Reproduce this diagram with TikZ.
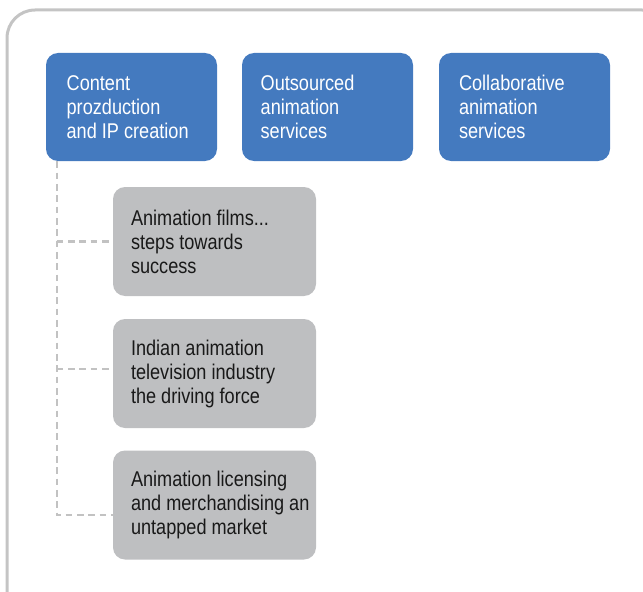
\documentclass[tikz,border=0pt]{standalone}
\usepackage{fontspec}
\setmainfont{Liberation Sans}[FakeStretch=0.85]
\definecolor{box blue}{HTML}{447ABF}
\definecolor{box gray}{HTML}{BEBFC1}
\definecolor{frame gray}{HTML}{C4C4C4}
\definecolor{dash gray}{HTML}{C2C2C2}
\tikzset{
  bluebox/.style={fill=box blue, rounded corners=9pt, minimum width=128.25pt, minimum height=81pt, inner sep=0pt},
  graybox/.style={fill=box gray, rounded corners=9pt, minimum width=152.25pt, minimum height=81.75pt, inner sep=0pt},
  boxtext/.style={anchor=west, align=left, inner sep=0pt, font=\fontsize{16pt}{18pt}\selectfont},
  trunk/.style={draw=dash gray, line width=1.6pt, dash pattern=on 5pt off 3.5pt}
}
\begin{document}
\begin{tikzpicture}[x=0.75pt, y=-0.75pt]
			\useasboundingbox (0,0) rectangle (643,592);
			% outer frame
			\draw[frame gray, line width=2.25pt, rounded corners=21pt] (7,10) rectangle (670,620);
			% top row
			\node[bluebox] (b1) at (131.5,107) {};
			\node[bluebox] (b2) at (327.5,107) {};
			\node[bluebox] (b3) at (524.5,107) {};
			\node[boxtext, text=white] (t1) at ([xshift=15.5pt]b1.west) {Content\\prozduction\\and IP creation};
			\node[boxtext, text=white] (t2) at ([xshift=14pt]b2.west) {Outsourced\\animation\\services};
			\node[boxtext, text=white] (t3) at ([xshift=15pt]b3.west) {Collaborative\\animation\\services};
			% sub items
			\node[graybox] (g1) at (214.5,241.5) {};
			\node[graybox] (g2) at (214.5,373.5) {};
			\node[graybox] (g3) at (214.5,505) {};
			\node[boxtext, text=black!90] (s1) at ([xshift=13.5pt]g1.west) {Animation films...\\steps towards\\success};
			\node[boxtext, text=black!90] (s2) at ([xshift=13.5pt]g2.west) {Indian animation\\television industry\\the driving force};
			\node[boxtext, text=black!90] (s3) at ([xshift=13.5pt]g3.west) {Animation licensing\\and merchandising an\\untapped market};
			% dashed links
			\coordinate (e2) at ([yshift=3.4pt]g2.west);
			\coordinate (e3) at ([yshift=-7.5pt]g3.west);
			\draw[trunk] ([xshift=8.25pt]b1.south west) coordinate (top) |- (e3);
			\draw[trunk] (top |- g1.west) -- (g1.west);
			\draw[trunk] (top |- e2) -- (e2);
		\end{tikzpicture}
\end{document}
